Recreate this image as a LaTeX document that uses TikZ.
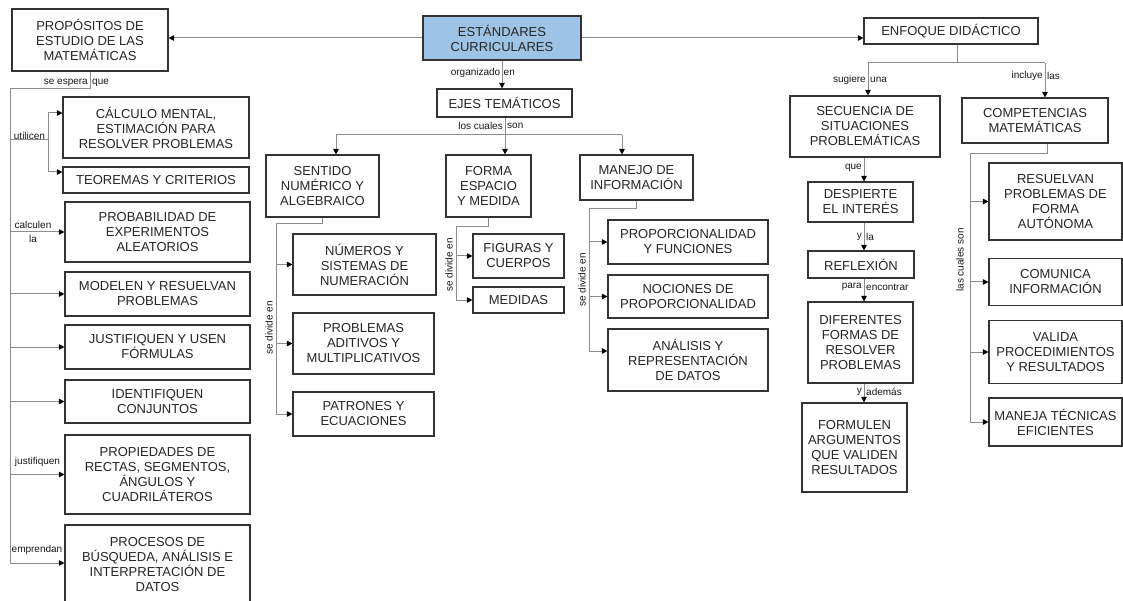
\documentclass[tikz,border=0pt]{standalone}
\usepackage{fontspec}
\setmainfont{Liberation Sans}
\usetikzlibrary{arrows.meta,calc}
\definecolor{boxline}{HTML}{333333}
\definecolor{connline}{HTML}{8C8C8C}
\definecolor{headfill}{HTML}{9DC3E6}
\tikzset{
  box/.style={draw=boxline, line width=1.1pt, inner sep=0pt, align=center,
    text=black!85, font=\fontsize{13}{15}\selectfont},
  conn/.style={draw=connline, line width=1pt},
  arr/.style={conn, -{Triangle[length=5.5pt,width=5.5pt,color=black]}},
  lbl/.style={inner sep=0pt, font=\fontsize{10}{11}\selectfont, text=black!90},
}
\begin{document}
\begin{tikzpicture}[x=1pt,y=-1pt]
\fill[white] (0,0) rectangle (1123,601);
\useasboundingbox (0,0) rectangle (1123,601);

% ---- central heading and themes
\node[box, fill=headfill, minimum width=158, minimum height=44] (est) at (502,38) {ESTÁNDARES\\CURRICULARES};
\node[box, minimum width=135, minimum height=28] (ejes) at (504.5,103) {EJES TEMÁTICOS};

% ---- left column: purposes
\node[box, minimum width=156, minimum height=62] (prop) at (90,40) {PROPÓSITOS DE\\ESTUDIO DE LAS\\MATEMÁTICAS};
\node[box, minimum width=186, minimum height=61] (calc) at (156,127.5) {CÁLCULO MENTAL,\\ESTIMACIÓN PARA\\RESOLVER PROBLEMAS};
\node[box, minimum width=186, minimum height=26] (teor) at (156,180) {TEOREMAS Y CRITERIOS};
\node[box, minimum width=185, minimum height=60] (prob) at (157.5,232) {PROBABILIDAD DE\\EXPERIMENTOS\\ALEATORIOS};
\node[box, minimum width=185, minimum height=44] (mod) at (157.5,294) {MODELEN Y RESUELVAN\\PROBLEMAS};
\node[box, minimum width=185, minimum height=44] (just) at (157.5,347) {JUSTIFIQUEN Y USEN\\FÓRMULAS};
\node[box, minimum width=185, minimum height=43] (ident) at (157.5,401.5) {IDENTIFIQUEN\\CONJUNTOS};
\node[box, minimum width=185, minimum height=79] (propi) at (157.5,474.5) {PROPIEDADES DE\\RECTAS, SEGMENTOS,\\ÁNGULOS Y\\CUADRILÁTEROS};
\node[box, minimum width=185, minimum height=80] (proc) at (157.5,565) {PROCESOS DE\\BÚSQUEDA, ANÁLISIS E\\INTERPRETACIÓN DE\\DATOS};

% ---- thematic axes
\node[box, minimum width=113, minimum height=62] (sent) at (322.5,186) {SENTIDO\\NUMÉRICO Y\\ALGEBRAICO};
\node[box, minimum width=85, minimum height=62] (forma) at (488.5,186) {FORMA\\ESPACIO\\Y MEDIDA};
\node[box, minimum width=113, minimum height=45] (manejo) at (636.5,177.5) {MANEJO DE\\INFORMACIÓN};
\node[box, minimum width=143, minimum height=61] (num) at (364.5,264.5) {NÚMEROS Y\\SISTEMAS DE\\NUMERACIÓN};
\node[box, minimum width=141, minimum height=61] (probl) at (363.5,343.5) {PROBLEMAS\\ADITIVOS Y\\MULTIPLICATIVOS};
\node[box, minimum width=141, minimum height=44] (patr) at (363.5,414) {PATRONES Y\\ECUACIONES};
\node[box, minimum width=91, minimum height=44] (fig) at (518.5,256) {FIGURAS Y\\CUERPOS};
\node[box, minimum width=91, minimum height=26] (med) at (518.5,300) {MEDIDAS};
\node[box, minimum width=160, minimum height=44] (pfun) at (688,242) {PROPORCIONALIDAD\\Y FUNCIONES};
\node[box, minimum width=160, minimum height=43] (noc) at (688,296.5) {NOCIONES DE\\PROPORCIONALIDAD};
\node[box, minimum width=160, minimum height=62] (anal) at (688,360) {ANÁLISIS Y\\REPRESENTACIÓN\\DE DATOS};

% ---- didactic approach
\node[box, minimum width=174, minimum height=26] (enf) at (951,31) {ENFOQUE DIDÁCTICO};
\node[box, minimum width=150, minimum height=61] (sec) at (865,126.5) {SECUENCIA DE\\SITUACIONES\\PROBLEMÁTICAS};
\node[box, minimum width=146, minimum height=45] (comp) at (1035,120.5) {COMPETENCIAS\\MATEMÁTICAS};
\node[box, minimum width=105, minimum height=40] (desp) at (860.5,202) {DESPIERTE\\EL INTERÉS};
\node[box, minimum width=106, minimum height=27] (refl) at (861,264.5) {REFLEXIÓN};
\node[box, minimum width=105, minimum height=81] (dif) at (860.5,342.5) {DIFERENTES\\FORMAS DE\\RESOLVER\\PROBLEMAS};
\node[box, minimum width=105, minimum height=89] (form) at (854.5,447.5) {FORMULEN\\ARGUMENTOS\\QUE VALIDEN\\RESULTADOS};
\node[box, minimum width=133, minimum height=77] (res) at (1055.5,201.5) {RESUELVAN\\PROBLEMAS DE\\FORMA\\AUTÓNOMA};
\node[box, minimum width=133, minimum height=47] (com) at (1055.5,282) {COMUNICA\\INFORMACIÓN};
\node[box, minimum width=133, minimum height=63] (val) at (1055.5,352) {VALIDA\\PROCEDIMIENTOS\\Y RESULTADOS};
\node[box, minimum width=133, minimum height=48] (man) at (1055.5,422) {MANEJA TÉCNICAS\\EFICIENTES};

% ---- heading connectors
\draw[arr] (est.west) -- (est.west -| prop.east);
\draw[arr] (est.east) -- (est.east -| enf.west);
\draw[arr] (est.south) -- (est.south |- ejes.north);
\node[lbl, anchor=east] (lorg) at ($(est.south)+(-1.5,12)$) {organizado};
\node[lbl, anchor=west] (len) at ($(est.south)+(1.5,12)$) {en};

% ---- purposes branch
\coordinate (lt) at (10,89);
\coordinate (lb) at (10,563);
\draw[conn] (prop.south) |- (lt) -- (lb);
\node[lbl, anchor=east] (lse) at (88,83) {se espera};
\node[lbl, anchor=west] (lque) at (92,83) {que};
\coordinate (ub) at (48,140);
\coordinate (ut) at (48,113);
\coordinate (ud) at (48,172);
\draw[conn] (lt |- ub) -- (ub);
\draw[arr] (ub) -- (ut) -- (ut -| calc.west);
\draw[arr] (ub) -- (ud) -- (ud -| teor.west);
\node[lbl] (lutil) at (29.5,135.5) {utilicen};
\draw[arr] (lt |- prob.west) -- (prob.west);
\node[lbl] (lcalc) at (33,224.5) {calculen};
\node[lbl] (lla) at (33,239) {la};
\draw[arr] (lt |- mod.west) -- (mod.west);
\draw[arr] (lt |- just.west) -- (just.west);
\draw[arr] (lt |- ident.west) -- (ident.west);
\draw[arr] (lt |- propi.west) -- (propi.west);
\node[lbl] (ljust) at (37.5,462) {justifiquen};
\draw[arr] (lb) -- (lb -| proc.west);
\node[lbl] (lemp) at (37,550) {emprendan};

% ---- thematic axes branch
\coordinate (jm) at (505,135);
\coordinate (jl) at (336,135);
\coordinate (jr) at (622,135);
\draw[conn] (jm |- ejes.south) -- (jm);
\draw[conn] (jl) -- (jr);
\draw[arr] (jl) -- (jl |- sent.north);
\draw[arr] (jm) -- (jm |- forma.north);
\draw[arr] (jr) -- (jr |- manejo.north);
\node[lbl, anchor=east] (llos) at (503,126) {los cuales};
\node[lbl, anchor=west] (lson) at (507,126) {son};

% numeric sense
\coordinate (st) at (276,224);
\draw[conn] (sent.south) |- (st) -- (st |- patr.west);
\draw[arr] (st |- num.west) -- (num.west);
\draw[arr] (st |- probl.west) -- (probl.west);
\draw[arr] (st |- patr.west) -- (patr.west);
\node[lbl, rotate=90] (lsd1) at (269,328) {se divide en};

% shape, space and measure
\coordinate (ft) at (456,227);
\draw[conn] (forma.south) |- (ft) -- (ft |- med.west);
\draw[arr] (ft |- fig.west) -- (fig.west);
\draw[arr] (ft |- med.west) -- (med.west);
\node[lbl, rotate=90] (lsd2) at (449,265) {se divide en};

% information handling
\coordinate (mt) at (589,209);
\coordinate (mb) at (589,351);
\draw[conn] (manejo.south) |- (mt) -- (mb);
\draw[arr] (mt |- pfun.west) -- (pfun.west);
\draw[arr] (mt |- noc.west) -- (noc.west);
\draw[arr] (mb) -- (mb -| anal.west);
\node[lbl, rotate=90] (lsd3) at (582,280) {se divide en};

% ---- didactic approach branch
\coordinate (em) at (957,63);
\coordinate (el) at (868,63);
\coordinate (er) at (1045,63);
\draw[conn] (em |- enf.south) -- (em);
\draw[conn] (el) -- (er);
\draw[arr] (el) -- (el |- sec.north);
\draw[arr] (er) -- (er |- comp.north);
\node[lbl, anchor=east] (lsug) at (866,80) {sugiere};
\node[lbl, anchor=west] (luna) at (870,80) {una};
\node[lbl, anchor=east] (linc) at (1043,76) {incluye};
\node[lbl, anchor=west] (llas) at (1047,76) {las};

% problem-situation chain
\coordinate (cx) at (864,0);
\draw[arr] (sec.south -| cx) -- (desp.north -| cx);
\node[lbl, anchor=east] (lq) at (862,168) {que};
\draw[arr] (desp.south -| cx) -- (refl.north -| cx);
\node[lbl, anchor=east] (ly1) at (862,237) {y};
\node[lbl, anchor=west] (lla2) at (866,237) {la};
\draw[arr] (refl.south -| cx) -- (dif.north -| cx);
\node[lbl, anchor=east] (lpara) at (862,287) {para};
\node[lbl, anchor=west] (lenc) at (866,287) {encontrar};
\draw[arr] (dif.south -| cx) -- (form.north -| cx);
\node[lbl, anchor=east] (ly2) at (862,392) {y};
\node[lbl, anchor=west] (lade) at (866,392) {además};

% competences
\coordinate (cm) at (1047,154);
\coordinate (ct) at (970,154);
\draw[conn] (cm |- comp.south) -- (cm) -- (ct) -- (ct |- man.west);
\draw[arr] (ct |- res.west) -- (res.west);
\draw[arr] (ct |- com.west) -- (com.west);
\draw[arr] (ct |- val.west) -- (val.west);
\draw[arr] (ct |- man.west) -- (man.west);
\node[lbl, rotate=90] (lcs) at (960,260) {las cuales son};
\end{tikzpicture}
\end{document}
